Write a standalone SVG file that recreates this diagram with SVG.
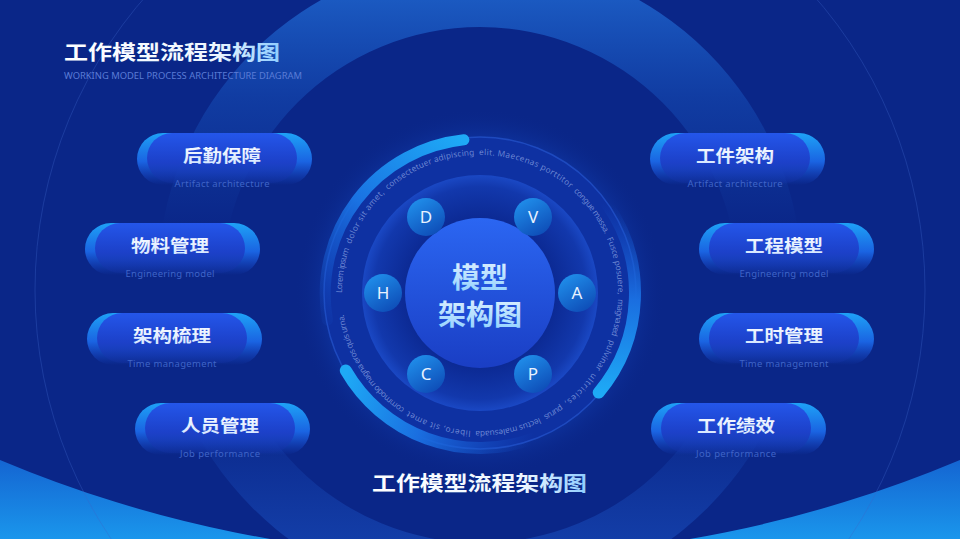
<svg xmlns="http://www.w3.org/2000/svg" xmlns:xlink="http://www.w3.org/1999/xlink" width="960" height="539" viewBox="0 0 960 539">
<defs>
<style>
.cjk{font-family:"Noto Sans CJK SC","Noto Sans",sans-serif;font-weight:700}
.lat{font-family:"Noto Sans","Liberation Sans",sans-serif}
.ttl{fill:url(#gTitle)}
.ntitle{font-size:17px;text-anchor:middle;fill:url(#gNodeText)}
.nsub{font-size:9.5px;text-anchor:middle;fill:#3f64c8}
.back{fill:url(#gBack)}
.front{fill:url(#gFront)}
.dot{fill:url(#gDot)}
.dl{font-family:"Noto Sans","Liberation Sans",sans-serif;font-size:17px;fill:#e8f2ff;text-anchor:middle}
.hl{stroke-width:1.5;fill:none}
.rt{font-family:"Noto Sans","Liberation Sans",sans-serif;font-size:8.3px;letter-spacing:0.4px;fill:#7d96dc;fill-opacity:0.85}
</style>
<linearGradient id="gTitle" x1="0" y1="0" x2="1" y2="0">
<stop offset="0" stop-color="#ffffff"/>
<stop offset="0.7" stop-color="#eef6ff"/>
<stop offset="1" stop-color="#8fcdff"/>
</linearGradient>
<linearGradient id="gNodeText" x1="0" y1="0" x2="0" y2="1">
<stop offset="0" stop-color="#ffffff"/>
<stop offset="1" stop-color="#cfe3ff"/>
</linearGradient>
<linearGradient id="gCenterText" x1="0" y1="0" x2="0" y2="1">
<stop offset="0" stop-color="#e6f3ff"/>
<stop offset="1" stop-color="#8ccfff"/>
</linearGradient>
<linearGradient id="gBack" x1="0" y1="0" x2="0" y2="1">
<stop offset="0" stop-color="#1ea2f7"/>
<stop offset="0.55" stop-color="#1a64e2"/>
<stop offset="1" stop-color="#1a4fd8" stop-opacity="0"/>
</linearGradient>
<linearGradient id="gFront" x1="0" y1="0" x2="0" y2="1">
<stop offset="0" stop-color="#2456ea"/>
<stop offset="0.6" stop-color="#1c40c8"/>
<stop offset="1" stop-color="#12309f" stop-opacity="0.4"/>
</linearGradient>
<linearGradient id="gDot" x1="0.2" y1="0" x2="0.8" y2="1">
<stop offset="0" stop-color="#2090ec"/>
<stop offset="1" stop-color="#0d4ab5"/>
</linearGradient>
<linearGradient id="gCore" x1="0" y1="0" x2="0" y2="1">
<stop offset="0" stop-color="#2b66f2"/>
<stop offset="1" stop-color="#1a3ec4"/>
</linearGradient>
<radialGradient id="gMid" cx="0.5" cy="0.5" r="0.5">
<stop offset="0.6" stop-color="#0b2891"/>
<stop offset="0.9" stop-color="#1238ac"/>
<stop offset="1" stop-color="#1a48c4"/>
</radialGradient>
<radialGradient id="gHalo" cx="0.5" cy="0.5" r="0.5">
<stop offset="0.75" stop-color="#1240b4" stop-opacity="0.9"/>
<stop offset="1" stop-color="#0a2688" stop-opacity="0"/>
</radialGradient>
<linearGradient id="gBand" gradientUnits="userSpaceOnUse" x1="480" y1="-42" x2="480" y2="602">
<stop offset="0" stop-color="#2370d8" stop-opacity="0.9"/>
<stop offset="0.22" stop-color="#1a5cc8" stop-opacity="0.4"/>
<stop offset="0.42" stop-color="#1a5cc8" stop-opacity="0"/>
<stop offset="0.7" stop-color="#1a50c0" stop-opacity="0"/>
<stop offset="0.9" stop-color="#1a50c0" stop-opacity="0.55"/>
<stop offset="1" stop-color="#1a58c8" stop-opacity="0.8"/>
</linearGradient>
<linearGradient id="gBottom" gradientUnits="userSpaceOnUse" x1="0" y1="455" x2="0" y2="539">
<stop offset="0" stop-color="#1462d0"/>
<stop offset="1" stop-color="#1a96ec"/>
</linearGradient>
<linearGradient id="gArcTop" gradientUnits="userSpaceOnUse" x1="464" y1="140" x2="328" y2="320">
<stop offset="0" stop-color="#1eaaf6"/>
<stop offset="0.5" stop-color="#1a72e2"/>
<stop offset="1" stop-color="#1656d2" stop-opacity="0.1"/>
</linearGradient>
<linearGradient id="gArcLeft" gradientUnits="userSpaceOnUse" x1="347" y1="370" x2="533" y2="438">
<stop offset="0" stop-color="#1eaaf6"/>
<stop offset="0.45" stop-color="#1a6ee0"/>
<stop offset="1" stop-color="#1656d2" stop-opacity="0"/>
</linearGradient>
<linearGradient id="gArcRight" gradientUnits="userSpaceOnUse" x1="599" y1="393" x2="607" y2="204">
<stop offset="0" stop-color="#1eaaf6"/>
<stop offset="0.5" stop-color="#1a6ee0"/>
<stop offset="1" stop-color="#1656d2" stop-opacity="0"/>
</linearGradient>
<linearGradient id="gLine" x1="0" y1="0" x2="0" y2="1">
<stop offset="0" stop-color="#3a70f5"/>
<stop offset="0.6" stop-color="#2f62ea" stop-opacity="0.6"/>
<stop offset="1" stop-color="#2a62e8" stop-opacity="0"/>
</linearGradient>
<path id="textCircle" d="M342,293 A138,138 0 1 1 618,293 A138,138 0 1 1 342,293"/>
</defs>

<g id="background">
<rect x="0" y="0" width="960" height="539" fill="#0a2688"/>
<path d="M0,460 A1237,1237 0 0 0 960,460 L960,539 L0,539 Z" fill="url(#gBottom)"/>
<path d="M158,280 A322,322 0 1 1 802,280 A322,322 0 1 1 158,280 Z M222,285 A258,258 0 1 0 738,285 A258,258 0 1 0 222,285 Z" fill="url(#gBand)" fill-rule="evenodd"/>
<circle cx="480" cy="290" r="445" fill="none" stroke="#3b64c8" stroke-opacity="0.35" stroke-width="1"/>
</g>

<g id="header">
<line class="hl" x1="29" y1="30" x2="29" y2="100" stroke="url(#gLine)"/>
<line class="hl" x1="39" y1="43" x2="39" y2="100" stroke="url(#gLine)"/>
<line class="hl" x1="47" y1="22" x2="47" y2="100" stroke="url(#gLine)"/>
<line class="hl" x1="51" y1="40" x2="51" y2="93" stroke="url(#gLine)"/>
<text class="cjk ttl" x="64" y="60" font-size="20" textLength="216" lengthAdjust="spacingAndGlyphs">工作模型流程架构图</text>
<text class="lat" x="64" y="79" font-size="8" fill="#5a7cd6" textLength="238" lengthAdjust="spacingAndGlyphs">WORKING MODEL PROCESS ARCHITECTURE DIAGRAM</text>
</g>

<g id="center">
<circle cx="480" cy="293" r="185" fill="url(#gHalo)"/>
<circle cx="480" cy="293" r="156" fill="#0e31a2" stroke="#2a5cd6" stroke-opacity="0.6" stroke-width="1.5"/>
<circle cx="480" cy="293" r="118" fill="url(#gMid)"/>
<g id="ring-text">
<text class="rt"><textPath href="#textCircle" xlink:href="#textCircle" startOffset="0" textLength="45.6" lengthAdjust="spacing">Lorem ipsum</textPath></text>
<text class="rt"><textPath href="#textCircle" xlink:href="#textCircle" startOffset="49.8" textLength="62.2" lengthAdjust="spacing">dolor sit amet,</textPath></text>
<text class="rt"><textPath href="#textCircle" xlink:href="#textCircle" startOffset="116.1" textLength="95.4" lengthAdjust="spacing">consectetuer adipiscing</textPath></text>
<text class="rt"><textPath href="#textCircle" xlink:href="#textCircle" startOffset="215.6" textLength="99.5" lengthAdjust="spacing">elit. Maecenas porttitor</textPath></text>
<text class="rt"><textPath href="#textCircle" xlink:href="#textCircle" startOffset="319.3" textLength="53.9" lengthAdjust="spacing">congue massa.</textPath></text>
<text class="rt"><textPath href="#textCircle" xlink:href="#textCircle" startOffset="377.3" textLength="58" lengthAdjust="spacing">Fusce posuere,</textPath></text>
<text class="rt"><textPath href="#textCircle" xlink:href="#textCircle" startOffset="439.5" textLength="37.3" lengthAdjust="spacing">magna sed</textPath></text>
<text class="rt"><textPath href="#textCircle" xlink:href="#textCircle" startOffset="481" textLength="33.2" lengthAdjust="spacing">pulvinar</textPath></text>
<text class="rt"><textPath href="#textCircle" xlink:href="#textCircle" startOffset="518.3" textLength="41.5" lengthAdjust="spacing">ultricies,</textPath></text>
<text class="rt"><textPath href="#textCircle" xlink:href="#textCircle" startOffset="563.9" textLength="20.7" lengthAdjust="spacing">purus</textPath></text>
<text class="rt"><textPath href="#textCircle" xlink:href="#textCircle" startOffset="588.8" textLength="66.3" lengthAdjust="spacing">lectus malesuada</textPath></text>
<text class="rt"><textPath href="#textCircle" xlink:href="#textCircle" startOffset="659.3" textLength="66.3" lengthAdjust="spacing">libero, sit amet</textPath></text>
<text class="rt"><textPath href="#textCircle" xlink:href="#textCircle" startOffset="729.7" textLength="116.1" lengthAdjust="spacing">commodo magna eros quis urna.</textPath></text>
</g>
<path d="M463.9,139.8 A155,155 0 0 0 327.4,320" fill="none" stroke="url(#gArcTop)" stroke-width="11" stroke-linecap="round"/>
<path d="M345.8,370.5 A155,155 0 0 0 533,438.6" fill="none" stroke="url(#gArcLeft)" stroke-width="12" stroke-linecap="round"/>
<path d="M598.7,392.6 A155,155 0 0 0 607,204.1" fill="none" stroke="url(#gArcRight)" stroke-width="12" stroke-linecap="round"/>
<circle cx="480" cy="293" r="75" fill="url(#gCore)"/>
<text class="cjk" x="480" y="288" font-size="28" text-anchor="middle" fill="url(#gCenterText)">模型</text>
<text class="cjk" x="480" y="325" font-size="28" text-anchor="middle" fill="url(#gCenterText)">架构图</text>
</g>

<g id="dot-D"><circle class="dot" cx="426" cy="217" r="19"/><text class="dl" x="426" y="223">D</text></g>
<g id="dot-V"><circle class="dot" cx="533" cy="217" r="19"/><text class="dl" x="533" y="223">V</text></g>
<g id="dot-H"><circle class="dot" cx="383" cy="293" r="19"/><text class="dl" x="383" y="299">H</text></g>
<g id="dot-A"><circle class="dot" cx="577" cy="293" r="19"/><text class="dl" x="577" y="299">A</text></g>
<g id="dot-C"><circle class="dot" cx="426" cy="374" r="19"/><text class="dl" x="426" y="380">C</text></g>
<g id="dot-P"><circle class="dot" cx="533" cy="374" r="19"/><text class="dl" x="533" y="380">P</text></g>

<g id="node-houqin" transform="translate(147,133)">
<rect class="back" x="-10" y="0" width="175" height="52" rx="26"/>
<rect class="front" x="0" y="0" width="150" height="50" rx="25"/>
<text class="cjk ntitle" x="75" y="29" textLength="78" lengthAdjust="spacingAndGlyphs">后勤保障</text>
<text class="lat nsub" x="75" y="54" textLength="95">Artifact architecture</text>
</g>
<g id="node-wuliao" transform="translate(95,223)">
<rect class="back" x="-10" y="0" width="175" height="52" rx="26"/>
<rect class="front" x="0" y="0" width="150" height="50" rx="25"/>
<text class="cjk ntitle" x="75" y="29" textLength="78" lengthAdjust="spacingAndGlyphs">物料管理</text>
<text class="lat nsub" x="75" y="54" textLength="89">Engineering model</text>
</g>
<g id="node-jiagou" transform="translate(97,313)">
<rect class="back" x="-10" y="0" width="175" height="52" rx="26"/>
<rect class="front" x="0" y="0" width="150" height="50" rx="25"/>
<text class="cjk ntitle" x="75" y="29" textLength="78" lengthAdjust="spacingAndGlyphs">架构梳理</text>
<text class="lat nsub" x="75" y="54" textLength="89">Time management</text>
</g>
<g id="node-renyuan" transform="translate(145,403)">
<rect class="back" x="-10" y="0" width="175" height="52" rx="26"/>
<rect class="front" x="0" y="0" width="150" height="50" rx="25"/>
<text class="cjk ntitle" x="75" y="29" textLength="78" lengthAdjust="spacingAndGlyphs">人员管理</text>
<text class="lat nsub" x="75" y="54" textLength="80">Job performance</text>
</g>
<g id="node-gongjian" transform="translate(660,133)">
<rect class="back" x="-10" y="0" width="175" height="52" rx="26"/>
<rect class="front" x="0" y="0" width="150" height="50" rx="25"/>
<text class="cjk ntitle" x="75" y="29" textLength="78" lengthAdjust="spacingAndGlyphs">工件架构</text>
<text class="lat nsub" x="75" y="54" textLength="95">Artifact architecture</text>
</g>
<g id="node-gongcheng" transform="translate(709,223)">
<rect class="back" x="-10" y="0" width="175" height="52" rx="26"/>
<rect class="front" x="0" y="0" width="150" height="50" rx="25"/>
<text class="cjk ntitle" x="75" y="29" textLength="78" lengthAdjust="spacingAndGlyphs">工程模型</text>
<text class="lat nsub" x="75" y="54" textLength="89">Engineering model</text>
</g>
<g id="node-gongshi" transform="translate(709,313)">
<rect class="back" x="-10" y="0" width="175" height="52" rx="26"/>
<rect class="front" x="0" y="0" width="150" height="50" rx="25"/>
<text class="cjk ntitle" x="75" y="29" textLength="78" lengthAdjust="spacingAndGlyphs">工时管理</text>
<text class="lat nsub" x="75" y="54" textLength="89">Time management</text>
</g>
<g id="node-jixiao" transform="translate(661,403)">
<rect class="back" x="-10" y="0" width="175" height="52" rx="26"/>
<rect class="front" x="0" y="0" width="150" height="50" rx="25"/>
<text class="cjk ntitle" x="75" y="29" textLength="78" lengthAdjust="spacingAndGlyphs">工作绩效</text>
<text class="lat nsub" x="75" y="54" textLength="80">Job performance</text>
</g>

<g id="connectors"></g>

<g id="footer">
<text class="cjk ttl" x="372" y="491" font-size="20" textLength="215" lengthAdjust="spacingAndGlyphs">工作模型流程架构图</text>
</g>
</svg>
